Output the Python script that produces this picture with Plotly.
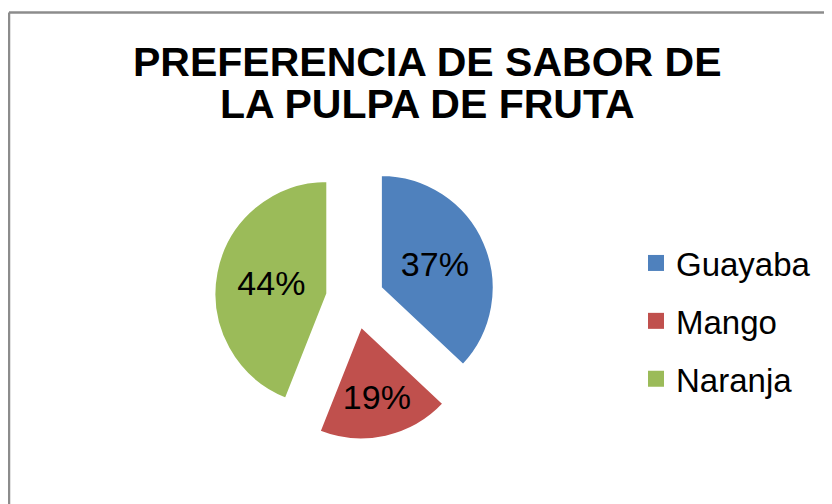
import plotly.graph_objects as go

# ---- data ----
labels = ["Guayaba", "Mango", "Naranja"]
values = [37, 19, 44]
colors = ["#4F81BD", "#C0504D", "#9BBB59"]
title_lines = ["PREFERENCIA DE SABOR DE", "LA PULPA DE FRUTA"]

W, H = 832, 504
OFF = 8  # page body margin offset
FONT = "Liberation Sans, Arial, sans-serif"


def px_x(x):
    return (x - OFF) / W


def px_y(y):
    return 1 - (y - OFF) / H


fig = go.Figure()

# pie (exploded slices)
cx, cy, half = 347 + OFF, 291 + OFF, 141
fig.add_trace(go.Pie(
    labels=labels,
    values=values,
    marker=dict(colors=colors, line=dict(color="white", width=2)),
    sort=False,
    direction="clockwise",
    rotation=0,
    pull=[0.25] * len(values),
    textinfo="percent",
    texttemplate="%{percent:.0%}",
    textposition="inside",
    insidetextorientation="horizontal",
    textfont=dict(family=FONT, size=34, color="black"),
    showlegend=False,
    domain=dict(x=[px_x(cx - half), px_x(cx + half)],
                y=[px_y(cy + half), px_y(cy - half)]),
    hoverinfo="label+percent",
))

# legend entries (one per category, square markers)
for i, (lab, col) in enumerate(zip(labels, colors)):
    fig.add_trace(go.Scatter(
        x=[None], y=[None], mode="markers", name=lab,
        marker=dict(symbol="square", size=16, color=col),
        legendgroup=f"g{i}", showlegend=True, hoverinfo="skip",
    ))

annotations = []
title_y = [62, 104]
for line, ty in zip(title_lines, title_y):
    annotations.append(dict(
        text=f"<b>{line}</b>", x=px_x(427.5), y=px_y(ty), xref="paper", yref="paper",
        xanchor="center", yanchor="middle", showarrow=False,
        font=dict(family=FONT, size=41, color="black"),
    ))

border_col = "#8C8C8C"
shapes = [
    dict(type="line", xref="paper", yref="paper", x0=px_x(9), x1=1.05,
         y0=px_y(12.5), y1=px_y(12.5), line=dict(color=border_col, width=2.5)),
    dict(type="line", xref="paper", yref="paper", x0=px_x(9), x1=px_x(9),
         y0=px_y(12.5), y1=-0.05, line=dict(color=border_col, width=2.5)),
]

fig.update_layout(
    width=W, height=H,
    margin=dict(l=0, r=0, t=0, b=0),
    paper_bgcolor="white", plot_bgcolor="white",
    xaxis=dict(visible=False), yaxis=dict(visible=False),
    annotations=annotations,
    shapes=shapes,
    showlegend=True,
    legend=dict(
        x=px_x(636), xanchor="left", y=px_y(321), yanchor="middle",
        font=dict(family=FONT, size=33, color="black"),
        traceorder="grouped", tracegroupgap=12,
        bgcolor="rgba(0,0,0,0)",
    ),
)

fig.write_html("out.html")
